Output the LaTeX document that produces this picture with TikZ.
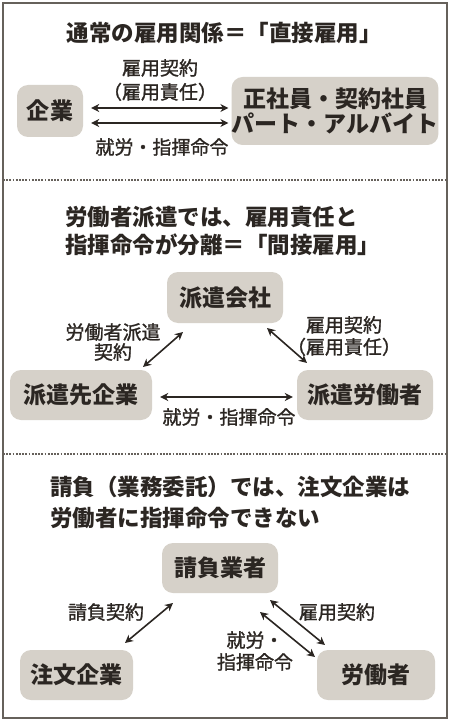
\documentclass[tikz,border=0pt]{standalone}
\usepackage{fontspec}
\setmainfont{Noto Sans CJK JP}
\newfontfamily\jplbl{Noto Sans CJK JP}[FakeBold=1.2]
\usetikzlibrary{arrows.meta}
\definecolor{ink}{HTML}{2B2622}
\definecolor{boxfill}{HTML}{D6D1C9}
\definecolor{framec}{HTML}{66615B}
\begin{document}
\begin{tikzpicture}[x=1pt,y=-1pt,
  ent/.style={fill=boxfill, rounded corners=11pt, text=ink, font=\fontsize{23}{25}\selectfont\bfseries, inner sep=0pt, align=center},
  ttl/.style={text=ink, font=\fontsize{22.5}{28}\selectfont\bfseries, align=left, inner sep=0pt},
  lbl/.style={text=ink, font=\jplbl\fontsize{19}{22}\selectfont, align=center, inner sep=0pt},
  arr/.style={{Stealth[length=8pt,width=8pt,inset=2.5pt]}-{Stealth[length=8pt,width=8pt,inset=2.5pt]}, line width=1.6pt, draw=ink}]
\useasboundingbox (0,0) rectangle (450,722);
\fill[white] (0,0) rectangle (450,722);
\draw[framec, line width=1.5pt] (3,3) rectangle (447,718);
\draw[framec, line width=1.8pt, dash pattern=on 1.8pt off 1.4pt] (3,180) -- (447,180);
\draw[framec, line width=1.8pt, dash pattern=on 1.8pt off 1.4pt] (3,454) -- (447,454);

% Section 1
\node[ttl] (t1) at (224,33) {通常の雇用関係＝「直接雇用」};
\node[ent, minimum width=66pt, minimum height=52pt] (kigyo) at (50,111) {企業};
\node[ent, minimum width=204pt, minimum height=68pt] (shain) at (335,111) {正社員・契約社員\\パート・アルバイト};
\draw[arr, shorten <=8pt, shorten >=3pt] ([yshift=3pt]kigyo.east) -- ([yshift=3pt]shain.west);
\draw[arr, shorten <=8pt, shorten >=3pt] ([yshift=-12pt]kigyo.east) -- ([yshift=-12pt]shain.west);
\node[lbl, font=\jplbl\fontsize{19}{24}\selectfont] (l1a) at (160,80) {雇用契約\\（雇用責任）};
\node[lbl] (l1b) at (162,147) {就労・指揮命令};

% Section 2
\node[ttl, anchor=west] (t2) at (65,231) {労働者派遣では、雇用責任と\\指揮命令が分離＝「間接雇用」};
\node[ent, minimum width=116pt, minimum height=51pt] (haken) at (225,297.5) {派遣会社};
\node[ent, minimum width=142pt, minimum height=50pt] (sakigyo) at (81,395) {派遣先企業};
\node[ent, minimum width=136pt, minimum height=50pt] (hroudou) at (365,395) {派遣労働者};
\coordinate (a2s) at (143,367);
\coordinate (a2e) at (183,332);
\coordinate (b2s) at (267,328);
\coordinate (b2e) at (307,363);
\draw[arr] (a2s) -- (a2e);
\draw[arr] (b2s) -- (b2e);
\draw[arr, shorten <=8pt, shorten >=4pt] ([yshift=-2pt]sakigyo.east) -- ([yshift=-2pt]hroudou.west);
\node[lbl, font=\jplbl\fontsize{19}{20}\selectfont] (l2a) at (113,342) {労働者派遣\\契約};
\node[lbl] (l2b) at (344,336) {雇用契約\\（雇用責任）};
\node[lbl] (l2c) at (229,417) {就労・指揮命令};

% Section 3
\node[ttl, anchor=west, font=\fontsize{22.5}{31}\selectfont\bfseries] (t3) at (50,502.5) {請負（業務委託）では、注文企業は\\労働者に指揮命令できない};
\node[ent, minimum width=116pt, minimum height=50pt] (ukeoi) at (220,568) {請負業者};
\node[ent, minimum width=113pt, minimum height=50pt] (chumon) at (76.5,675) {注文企業};
\node[ent, minimum width=118pt, minimum height=50pt] (roudou) at (376,675) {労働者};
\coordinate (a3s) at (125,643);
\coordinate (a3e) at (173,603);
\coordinate (b3s) at (270,600);
\coordinate (b3e) at (325,645);
\coordinate (c3s) at (260,612);
\coordinate (c3e) at (315,657);
\draw[arr] (a3s) -- (a3e);
\draw[arr] (b3s) -- (b3e);
\draw[arr] (c3s) -- (c3e);
\node[lbl] (l3a) at (106,612) {請負契約};
\node[lbl] (l3b) at (337,612) {雇用契約};
\node[lbl] (l3c) at (255,651) {就労・\\指揮命令};
\end{tikzpicture}
\end{document}
